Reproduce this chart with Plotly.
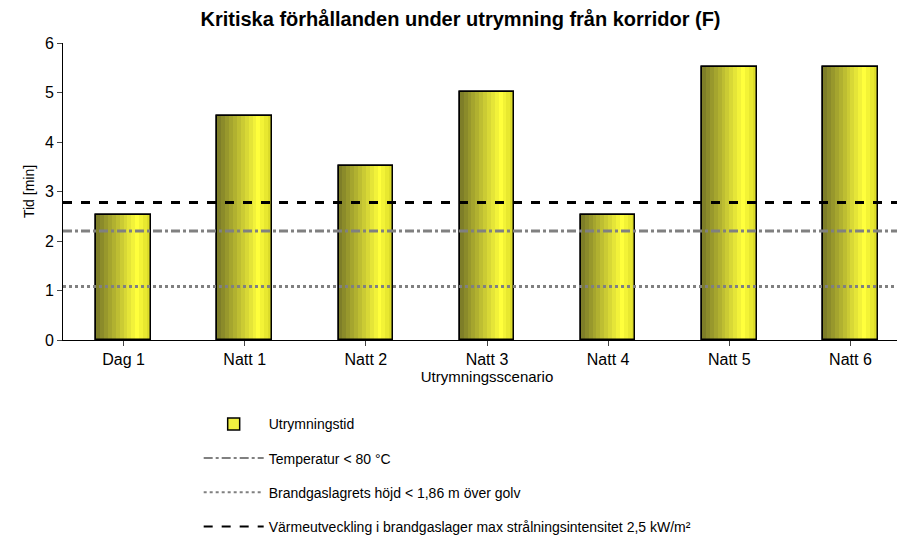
import plotly.graph_objects as go

scenarios = ["Dag 1", "Natt 1", "Natt 2", "Natt 3", "Natt 4", "Natt 5", "Natt 6"]
tider = [2.52, 4.52, 3.52, 5.02, 2.52, 5.52, 5.52]
temp_grans = 2.2
brandgas_grans = 1.08
varme_grans = 2.78

bar_w = 0.45
n_strips = 14


def strip_color(t):
    # dark olive on the left, bright yellow towards the right
    if t < 0.75:
        f = t / 0.75
        c0, c1 = (120, 120, 40), (255, 255, 60)
    else:
        f = (t - 0.75) / 0.25
        c0, c1 = (255, 255, 60), (215, 215, 40)
    r, g, b = [int(a + (b_ - a) * f) for a, b_ in zip(c0, c1)]
    return f"rgb({r},{g},{b})"


fig = go.Figure()
fig.add_trace(go.Bar(x=scenarios, y=tider, width=bar_w, name="Utrymningstid", legendgroup="a",
                     marker=dict(color="#f0f040", line=dict(color="black", width=1.5))))
for i in range(n_strips):
    fig.add_trace(go.Bar(x=scenarios, y=tider, width=bar_w / n_strips,
                         offset=-bar_w / 2 + i * bar_w / n_strips,
                         marker=dict(color=strip_color((i + 0.5) / n_strips), line_width=0),
                         showlegend=False, hoverinfo="skip"))
fig.add_trace(go.Bar(x=scenarios, y=tider, width=bar_w, showlegend=False,
                     marker=dict(color="rgba(0,0,0,0)", line=dict(color="black", width=1.5))))

lines = [
    (temp_grans, "Temperatur < 80 °C", "#808080", "dashdot", 3),
    (brandgas_grans, "Brandgaslagrets höjd < 1,86 m över golv", "#808080", "dot", 3),
    (varme_grans, "Värmeutveckling i brandgaslager max strålningsintensitet 2,5 kW/m²", "black", "dash", 3),
]
for k, (val, name, col, dash, w) in enumerate(lines):
    fig.add_hline(y=val, line=dict(color=col, dash=dash, width=w))
    fig.add_trace(go.Scatter(x=[None], y=[None], mode="lines", name=name, legendgroup=f"l{k}",
                             line=dict(color=col, dash=dash, width=2)))

fig.update_layout(
    width=905, height=536, barmode="overlay", bargap=0,
    paper_bgcolor="white", plot_bgcolor="white",
    margin=dict(l=55, r=2, t=35, b=186),
    font=dict(family="Liberation Sans, Arial", size=16, color="black"),
    title=dict(text="<b>Kritiska förhållanden under utrymning från korridor (F)</b>",
               x=0.5, y=0.993, xanchor="center", yanchor="top", font=dict(size=20)),
    legend=dict(x=0.16, y=-0.23, xanchor="left", yanchor="top", font=dict(size=14),
                tracegroupgap=13, itemwidth=60, bgcolor="rgba(0,0,0,0)"),
)
fig.update_xaxes(showline=True, linecolor="black", ticks="outside", ticklen=5, automargin=False,
                 title=dict(text="Utrymningsscenario", standoff=2, font=dict(size=15)),
                 showgrid=False)
fig.update_yaxes(range=[0, 6], dtick=1, showline=True, linecolor="black", ticks="outside",
                 ticklen=5, title=dict(text="Tid [min]", font=dict(size=14), standoff=6),
                 showgrid=False, zeroline=False, automargin=False)

fig.write_html("out.html")
